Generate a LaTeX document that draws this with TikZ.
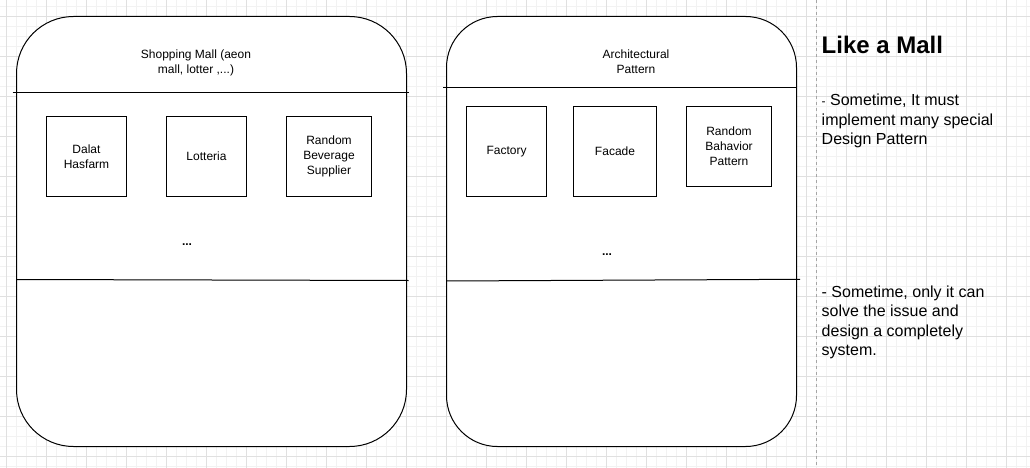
\documentclass[tikz,border=0pt]{standalone}
\usepackage{fontspec}
\setmainfont{Liberation Sans}
\usetikzlibrary{positioning}

\tikzset{
  gridminor/.style={draw=black!5,line width=0.8pt},
  gridmajor/.style={draw=black!12,line width=0.8pt},
  mall/.style={draw,line width=1pt,fill=white,outer sep=0pt},
  shop/.style={draw,line width=1pt,minimum width=80pt,minimum height=80pt,outer sep=0pt},
  splitline/.style={line width=1pt},
  note/.style={anchor=north west,align=left,font=\fontsize{16}{19.5}\selectfont}
}

\begin{document}
\begin{tikzpicture}[x=1pt,y=-1pt,every node/.style={inner sep=0pt,align=center,font=\fontsize{12}{15}\selectfont}]
  \useasboundingbox (0,0) rectangle (1030,468);
  \fill[white] (0,0) rectangle (1030,468);
  \foreach \i in {0,...,102} \draw[gridminor] (6.7+10*\i,0) -- (6.7+10*\i,468);
  \foreach \i in {0,...,46} \draw[gridminor] (0,6.7+10*\i) -- (1030,6.7+10*\i);
  \foreach \i in {0,...,25} \draw[gridmajor] (6.7+40*\i,0) -- (6.7+40*\i,468);
  \foreach \i in {0,...,11} \draw[gridmajor] (0,16.7+40*\i) -- (1030,16.7+40*\i);
  \draw[black!35,dash pattern=on 3pt off 3pt] (816.5,0) -- (816.5,468);

  \node[mall,rounded corners=57pt,minimum width=390pt,minimum height=430pt] (shopmall) at (211.5,231.5) {};
  \node[mall,rounded corners=51pt,minimum width=350pt,minimum height=430pt] (arch) at (621.5,231.5) {};
  \draw[splitline] (12.7,92.5) -- (408.7,92.5);
  \draw[splitline] (16.5,279.5) -- (408.7,280.5);
  \draw[splitline] (443.3,87.5) -- (796.5,87.5);
  \draw[splitline] (446.5,281) -- (800,279.3);

  \node (malltitle) at (196,62.5) {Shopping Mall (aeon\\mall, lotter ,...)};
  \node (archtitle) at (636,61.5) {Architectural\\Pattern};

  \node[shop] (dalat) at (86.5,156.5) {Dalat\\Hasfarm};
  \node[shop,right=40pt of dalat] (lotteria) {Lotteria};
  \node[shop,minimum width=85pt,right=40pt of lotteria] (beverage) {Random\\Beverage\\Supplier};

  \node[shop,minimum height=90pt] (factory) at (506.5,151.5) {Factory};
  \node[shop,minimum width=83pt,minimum height=90pt,right=27pt of factory] (facade) {Facade};
  \node[shop,minimum width=85pt] (behavior) at (729,146.5) {Random\\Bahavior\\Pattern};

  \node[anchor=base,font=\bfseries\fontsize{12}{15}\selectfont] (malldots) at (187,245) {...};
  \node[anchor=base,font=\bfseries\fontsize{12}{15}\selectfont] (archdots) at (607,255) {...};

  \node[anchor=base west,font=\bfseries\fontsize{24}{28}\selectfont] (heading) at (821.5,53.3) {Like a Mall};
  \node[note] (note1) at (821.5,94.2) {{\fontsize{12}{15}\selectfont-} Sometime, It must\\implement many special\\Design Pattern};
  \node[note] (note2) at (821.5,285.4) {- Sometime, only it can\\solve the issue and\\design a completely\\system.};
\end{tikzpicture}
\end{document}
